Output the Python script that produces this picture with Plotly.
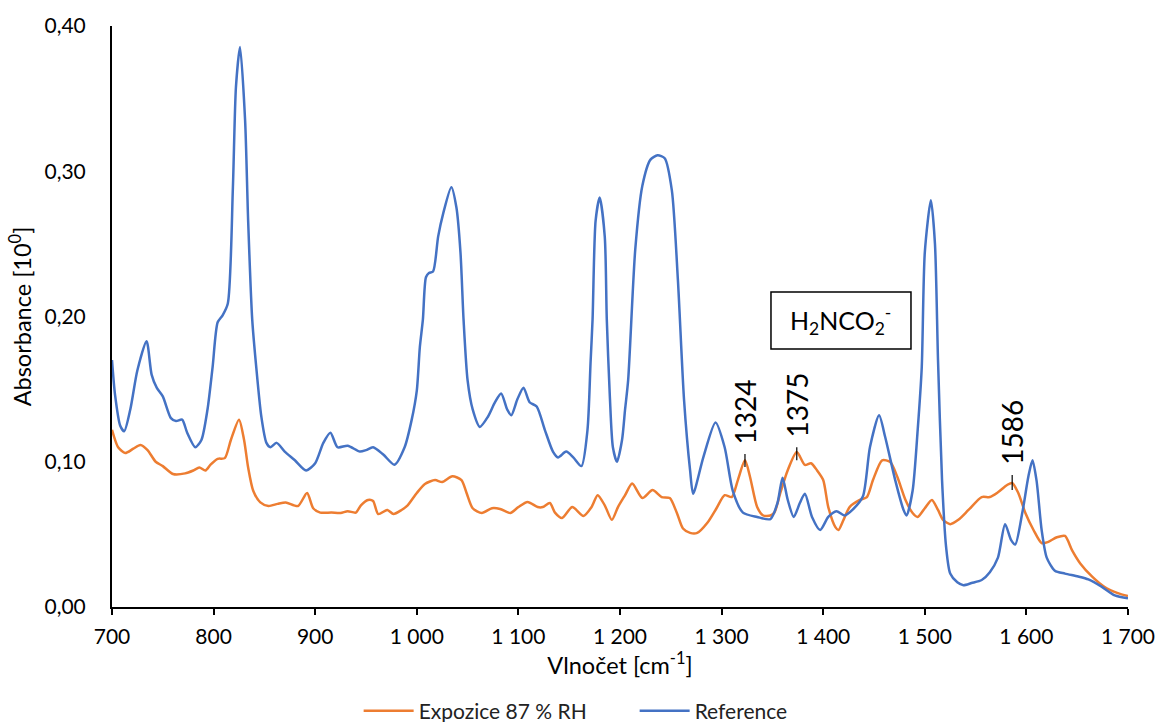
import plotly.graph_objects as go

# Reference spectrum (blue)
ref_x = [700, 703, 708, 712, 718, 725, 734, 739, 744, 750, 758, 763, 769, 774, 782, 788, 794, 799, 804, 809,
         814, 819, 822, 826, 831, 834, 838, 842, 847, 852, 856, 862, 870, 880, 891, 900, 908, 915, 922, 932,
         944, 950, 957, 967, 978, 988, 995, 1000, 1003, 1006, 1009, 1012, 1016, 1021, 1026, 1034, 1039, 1043,
         1046, 1050, 1055, 1062, 1070, 1077, 1083, 1089, 1093, 1099, 1105, 1111, 1118, 1126, 1134, 1139, 1147,
         1154, 1162, 1168, 1171, 1173, 1176, 1180, 1185, 1187, 1190, 1193, 1197, 1202, 1205, 1208, 1215, 1222,
         1230, 1237, 1244, 1251, 1257, 1263, 1269, 1272, 1282, 1294, 1303, 1311, 1321, 1335, 1348, 1355, 1360,
         1365, 1371, 1377, 1382, 1389, 1397, 1405, 1413, 1421, 1429, 1439, 1446, 1455, 1461, 1471, 1479, 1482,
         1488, 1493, 1497, 1500, 1506, 1510, 1513, 1517, 1521, 1525, 1532, 1538, 1546, 1556, 1564, 1572, 1579,
         1585, 1589, 1596, 1602, 1606, 1610, 1615, 1620, 1628, 1638, 1651, 1661, 1674, 1687, 1700]
ref_y = [0.170, 0.146, 0.125, 0.121, 0.136, 0.163, 0.183, 0.160, 0.151, 0.145, 0.130, 0.128, 0.129, 0.120, 0.110,
         0.115, 0.136, 0.165, 0.196, 0.201, 0.209, 0.289, 0.358, 0.3855, 0.335, 0.266, 0.198, 0.165, 0.131, 0.113,
         0.110, 0.113, 0.107, 0.101, 0.094, 0.099, 0.113, 0.120, 0.110, 0.111, 0.107, 0.108, 0.110, 0.105, 0.098,
         0.110, 0.129, 0.149, 0.179, 0.198, 0.227, 0.230, 0.231, 0.255, 0.271, 0.289, 0.275, 0.244, 0.198, 0.156,
         0.136, 0.124, 0.131, 0.141, 0.147, 0.136, 0.132, 0.143, 0.151, 0.141, 0.138, 0.122, 0.107, 0.103, 0.107,
         0.103, 0.097, 0.122, 0.168, 0.198, 0.266, 0.282, 0.255, 0.198, 0.145, 0.110, 0.100, 0.115, 0.136, 0.156,
         0.246, 0.290, 0.308, 0.311, 0.309, 0.287, 0.225, 0.143, 0.094, 0.078, 0.103, 0.127, 0.110, 0.080, 0.065,
         0.062, 0.0605, 0.0716, 0.089, 0.074, 0.062, 0.0716, 0.078, 0.062, 0.053, 0.062, 0.066, 0.063, 0.067,
         0.076, 0.110, 0.132, 0.117, 0.087, 0.067, 0.063, 0.080, 0.122, 0.165, 0.244, 0.280, 0.250, 0.170, 0.087,
         0.041, 0.023, 0.017, 0.015, 0.0165, 0.0186, 0.024, 0.034, 0.057, 0.046, 0.043, 0.065, 0.090, 0.101,
         0.087, 0.053, 0.034, 0.025, 0.023, 0.021, 0.019, 0.014, 0.008, 0.006]

# Exposure 87 % RH spectrum (orange)
exp_x = [700, 706, 713, 721, 728, 735, 743, 750, 760, 772, 780, 786, 792, 797, 804, 811, 817, 825, 830, 834,
         839, 846, 854, 863, 871, 883, 892, 898, 905, 916, 925, 932, 940, 945, 952, 957, 962, 971, 977, 985,
         991, 1000, 1008, 1018, 1025, 1035, 1044, 1049, 1055, 1064, 1074, 1082, 1092, 1100, 1109, 1119, 1124,
         1131, 1136, 1143, 1153, 1164, 1172, 1178, 1185, 1192, 1198, 1205, 1212, 1222, 1232, 1241, 1249, 1256,
         1262, 1269, 1276, 1286, 1295, 1303, 1310, 1316, 1323, 1328, 1335, 1341, 1348, 1352, 1358, 1365, 1374,
         1382, 1388, 1394, 1400, 1405, 1412, 1415, 1420, 1426, 1436, 1443, 1449, 1458, 1466, 1473, 1481, 1488,
         1493, 1500, 1507, 1513, 1518, 1525, 1533, 1543, 1556, 1564, 1572, 1581, 1586, 1592, 1599, 1607, 1615,
         1621, 1630, 1638, 1645, 1653, 1665, 1677, 1690, 1700]
exp_y = [0.122, 0.110, 0.106, 0.109, 0.1115, 0.108, 0.100, 0.097, 0.0916, 0.092, 0.094, 0.096, 0.094, 0.098,
         0.102, 0.1025, 0.115, 0.129, 0.115, 0.096, 0.080, 0.072, 0.0695, 0.071, 0.072, 0.0695, 0.0785, 0.068,
         0.065, 0.065, 0.0647, 0.066, 0.065, 0.070, 0.0737, 0.073, 0.064, 0.0668, 0.064, 0.0668, 0.070, 0.0785,
         0.0847, 0.0874, 0.086, 0.090, 0.0874, 0.0785, 0.068, 0.0647, 0.068, 0.0675, 0.0647, 0.0688, 0.0723,
         0.0688, 0.0688, 0.0716, 0.065, 0.0613, 0.0688, 0.0627, 0.0688, 0.077, 0.070, 0.060, 0.0688, 0.077,
         0.085, 0.075, 0.0805, 0.0757, 0.075, 0.0647, 0.054, 0.051, 0.051, 0.058, 0.068, 0.077, 0.0757, 0.0874,
         0.101, 0.0895, 0.0688, 0.063, 0.063, 0.065, 0.079, 0.094, 0.1067, 0.0978, 0.099, 0.094, 0.0874, 0.0688,
         0.055, 0.053, 0.060, 0.0688, 0.0737, 0.0757, 0.0874, 0.101, 0.0998, 0.0895, 0.0737, 0.0647, 0.062,
         0.068, 0.0737, 0.0668, 0.060, 0.057, 0.060, 0.0668, 0.0757, 0.0757, 0.079, 0.084, 0.0854, 0.0785,
         0.0647, 0.053, 0.044, 0.0447, 0.048, 0.0489, 0.039, 0.030, 0.0207, 0.0138, 0.0096, 0.0076]

series_names = ["Expozice 87 % RH", "Reference"]
series_colors = ["#ED7D31", "#4472C4"]

peak_labels = ["1324", "1375", "1586"]
peak_pos = [1323, 1374, 1586]
peak_tick_bottom = [0.0964, 0.101, 0.0805]
peak_tick_top = [0.1053, 0.110, 0.0909]

box_text = "H<sub>2</sub>NCO<sub>2</sub><sup>-</sup>"
box_x = [1348.6, 1486.4]
box_y = [0.1776, 0.2169]

FONT = "Lato"

fig = go.Figure()
fig.add_trace(go.Scatter(x=exp_x, y=exp_y, mode="lines", name=series_names[0],
                         line=dict(color=series_colors[0], width=2.5, shape="spline", smoothing=0.7)))
fig.add_trace(go.Scatter(x=ref_x, y=ref_y, mode="lines", name=series_names[1],
                         line=dict(color=series_colors[1], width=2.5, shape="spline", smoothing=0.7)))

for lab, px, yb, yt in zip(peak_labels, peak_pos, peak_tick_bottom, peak_tick_top):
    fig.add_shape(type="line", x0=px, x1=px, y0=yb, y1=yt, xref="x", yref="y",
                  line=dict(color="black", width=1.2))
    fig.add_annotation(x=px, y=yt + 0.0055, text=lab, textangle=-90, showarrow=False,
                       xanchor="center", yanchor="bottom",
                       font=dict(family=FONT, size=28, color="black"))

fig.add_shape(type="rect", x0=box_x[0], x1=box_x[1], y0=box_y[0], y1=box_y[1], xref="x", yref="y",
              line=dict(color="black", width=1.5), fillcolor="white")
fig.add_annotation(x=(box_x[0] + box_x[1]) / 2, y=(box_y[0] + box_y[1]) / 2, text=box_text,
                   showarrow=False, font=dict(family=FONT, size=25, color="black"))

fig.update_layout(
    width=1156, height=722,
    margin=dict(l=112, r=28, t=26, b=115, autoexpand=False),
    paper_bgcolor="white", plot_bgcolor="white",
    separators=", ",
    font=dict(family=FONT, size=21, color="black"),
    showlegend=True,
    legend=dict(orientation="h", x=0.549, xanchor="center", y=0.0152, yanchor="middle",
                yref="container", xref="container", font=dict(family=FONT, size=21, color="#222"),
                tracegroupgap=0, entrywidth=211, entrywidthmode="pixels", itemwidth=50),
    xaxis=dict(range=[700, 1700], tick0=700, dtick=100, showline=True, linecolor="black", linewidth=2,
               ticks="outside", ticklen=6, tickwidth=1.5, tickcolor="black", showgrid=False, zeroline=False,
               separatethousands=True, tickformat=",d", automargin=False, ticklabelstandoff=4,
               tickangle=0,
               title=dict(text="Vlnočet [cm<sup>-1</sup>]", font=dict(family=FONT, size=23.5), standoff=8)),
    yaxis=dict(range=[0, 0.40], dtick=0.10, showline=True, linecolor="black", linewidth=2,
               ticks="", showgrid=False, zeroline=False, tickformat=".2f", ticklabelstandoff=20,
               automargin=False,
               title=dict(text="Absorbance [10<sup>0</sup>]", font=dict(family=FONT, size=23.5), standoff=6)),
)

fig.write_html("out.html")
